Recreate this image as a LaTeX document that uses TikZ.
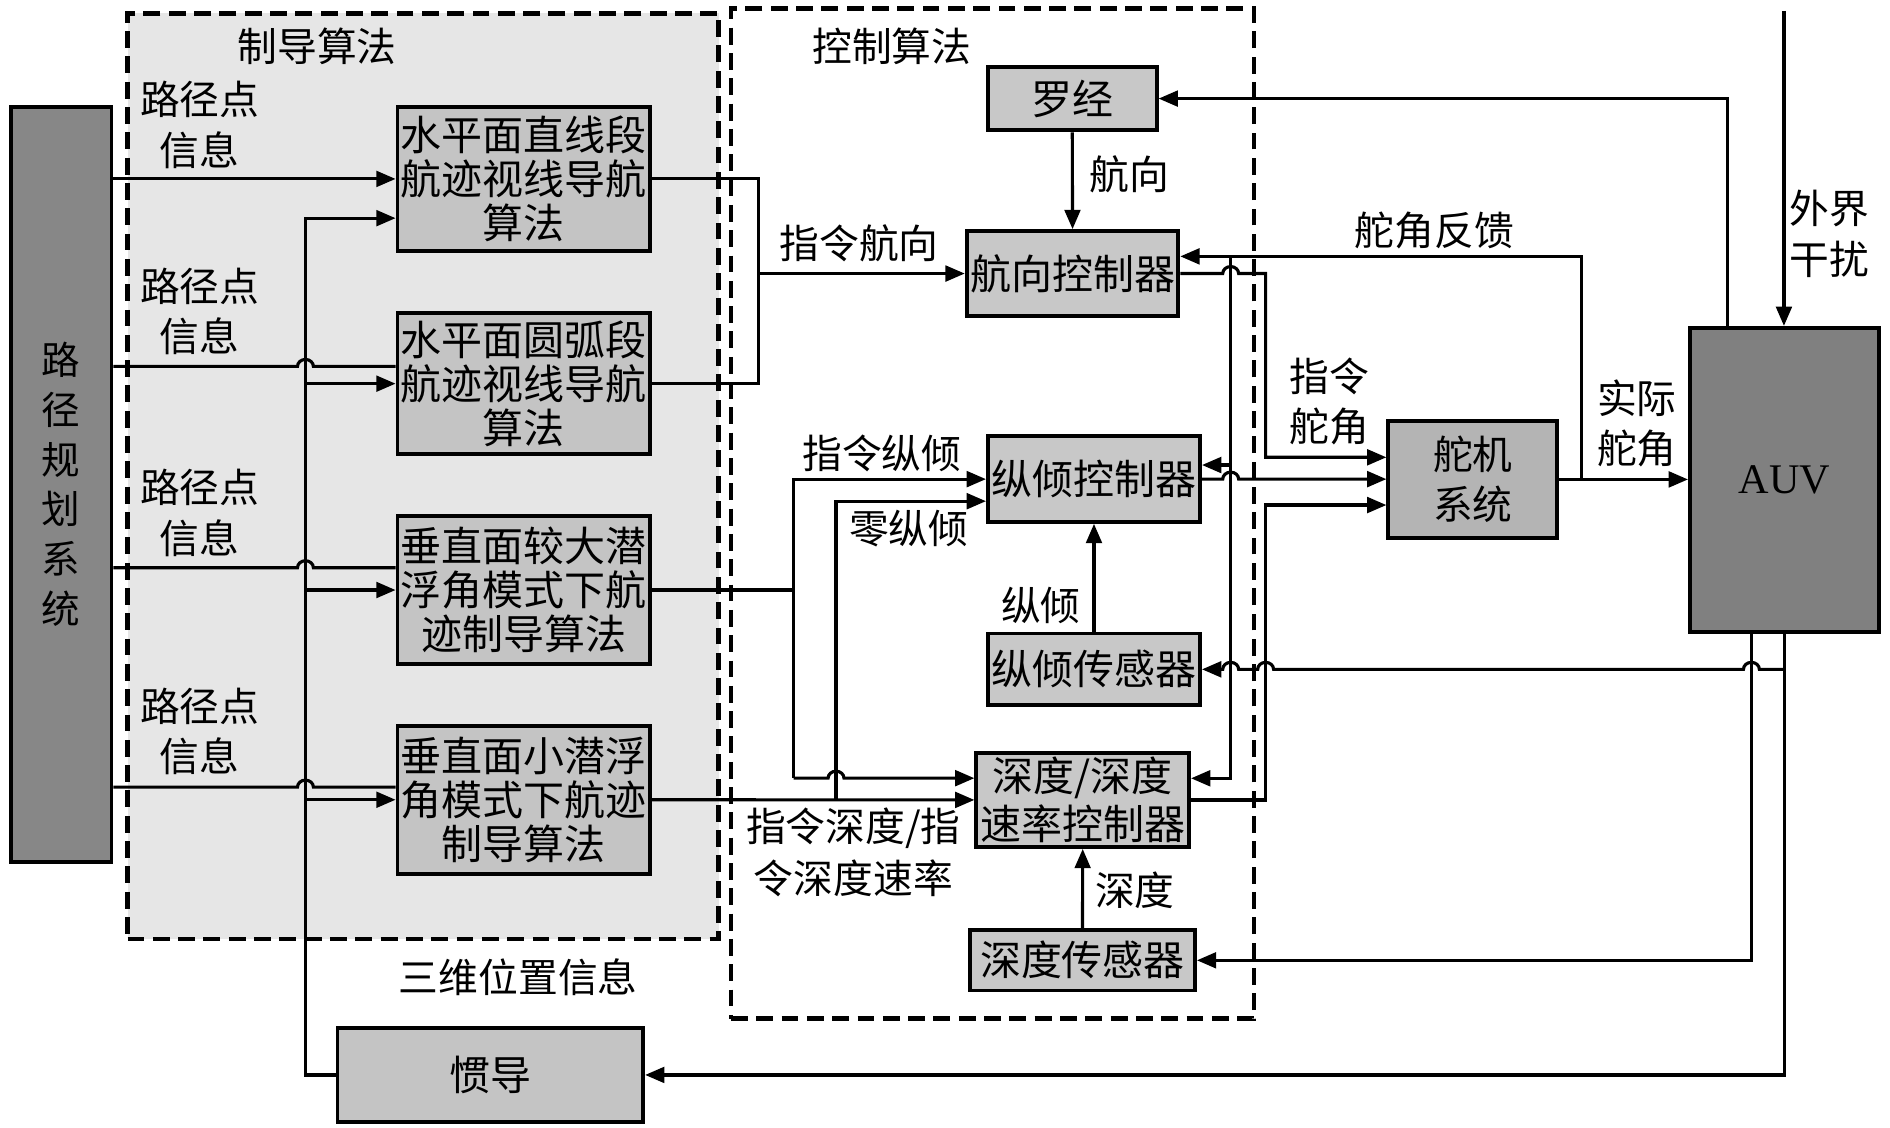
\documentclass[tikz,border=0pt]{standalone}
\usepackage{fontspec}
\setmainfont{Noto Sans CJK SC}
\newfontfamily\lser{Liberation Serif}
\usetikzlibrary{arrows.meta}
\definecolor{regfill}{RGB}{230,230,230}
\definecolor{boxg}{RGB}{196,196,196}
\definecolor{ctrlg}{RGB}{200,200,200}
\definecolor{servog}{RGB}{180,180,180}
\definecolor{ppg}{RGB}{135,135,135}
\definecolor{auvg}{RGB}{128,128,128}
\newcommand\hopR[2]{-- ({#1-6.6},#2) arc[start angle=180,end angle=0,x radius=3.3pt,y radius=2.9pt]}
\newcommand\hopL[2]{-- ({#1+6.6},#2) arc[start angle=0,end angle=180,x radius=3.3pt,y radius=2.9pt]}
\begin{document}
\begin{tikzpicture}[x=0.5pt,y=-0.5pt,
  ln/.style={line width=1.3pt,draw=black},
  arr/.style={ln,-{Triangle[length=8pt,width=6.5pt]}},
  bx/.style={draw,line width=1.6pt,fill=boxg,inner sep=0pt,align=center,font=\fontsize{17}{18.3}\selectfont},
  region/.style={draw,line width=2pt,dash pattern=on 7pt off 3.5pt,inner sep=0pt},
  lbl/.style={align=center,inner sep=0pt,font=\fontsize{16.5}{20.8}\selectfont}]
\useasboundingbox (0,0) rectangle (1568,935);
\fill[white] (0,0) rectangle (1568,935);
% regions
\node[region,fill=regfill,minimum width=245.3pt,minimum height=384pt] (greg) at (351.1,395) {};
\node[region,minimum width=217pt,minimum height=419pt] (creg) at (823.4,426) {};
% boxes
\node[bx,fill=ppg,font=\fontsize{16}{20.7}\selectfont,minimum width=41.85pt,minimum height=313.25pt] (pp) at (50.65,401.75) {路\\径\\规\\划\\系\\统};
\node[bx,minimum width=104.55pt,minimum height=59.55pt] (g1) at (434.35,148.45) {水平面直线段\\航迹视线导航\\算法};
\node[bx,minimum width=104.55pt,minimum height=58.3pt] (g2) at (434.35,318.3) {水平面圆弧段\\航迹视线导航\\算法};
\node[bx,minimum width=104.55pt,minimum height=61.5pt] (g3) at (434.35,489.5) {垂直面较大潜\\浮角模式下航\\迹制导算法};
\node[bx,minimum width=104.55pt,minimum height=61.5pt] (g4) at (434.35,663.5) {垂直面小潜浮\\角模式下航迹\\制导算法};
\node[bx,minimum width=126.8pt,minimum height=38.8pt] (ins) at (406.8,891.8) {惯导};
\node[bx,fill=ctrlg,minimum width=70pt,minimum height=26.4pt] (comp) at (889.6,81.8) {罗经};
\node[bx,fill=ctrlg,minimum width=87.8pt,minimum height=35.25pt] (hc) at (889.8,226.95) {航向控制器};
\node[bx,fill=ctrlg,minimum width=88pt,minimum height=35.5pt] (pc) at (907.6,397.5) {纵倾控制器};
\node[bx,fill=ctrlg,minimum width=88pt,minimum height=29.7pt] (ps) at (907.6,555.3) {纵倾传感器};
\node[bx,fill=ctrlg,font=\fontsize{17}{19.6}\selectfont,minimum width=88.25pt,minimum height=39.05pt] (dc) at (898.25,663.65) {深度/深度\\速率控制器};
\node[bx,fill=ctrlg,minimum width=93.35pt,minimum height=25.1pt] (ds) at (898.05,796.7) {深度传感器};
\node[bx,fill=servog,font=\fontsize{16.5}{20.5}\selectfont,minimum width=70.1pt,minimum height=48.75pt] (sv) at (1221.9,397.75) {舵机\\系统};
\node[bx,fill=auvg,font=\lser\fontsize{17.5}{20}\selectfont,minimum width=78.5pt,minimum height=126pt] (auv) at (1480.5,398) {AUV};
% labels
\node[lbl] (tg) at (263,38.7) {制导算法};
\node[lbl] (tc) at (740,38.5) {控制算法};
\node[lbl] (w1) at (165.7,103.7) {路径点\\信息};
\node[lbl] (w2) at (165.7,258.5) {路径点\\信息};
\node[lbl] (w3) at (165.7,425.5) {路径点\\信息};
\node[lbl] (w4) at (165.7,607) {路径点\\信息};
\node[lbl] (tpos) at (430,810.6) {三维位置信息};
\node[lbl] (tcmd) at (712.7,201.5) {指令航向};
\node[lbl] (thd) at (936.7,145) {航向};
\node[lbl] (tfb) at (1190,190.8) {舵角反馈};
\node[lbl] (tcr) at (1102.6,333.2) {指令\\舵角};
\node[lbl] (tar) at (1358,351) {实际\\舵角};
\node[lbl] (tdis) at (1518,194) {外界\\干扰};
\node[lbl] (tcp) at (731.6,376) {指令纵倾};
\node[lbl] (tzp) at (754,438.5) {零纵倾};
\node[lbl] (tp) at (863.5,502.6) {纵倾};
\node[lbl,font=\fontsize{16.5}{21.5}\selectfont] (tcd) at (708,707.5) {指令深度/指\\令深度速率};
\node[lbl] (td) at (941.6,738.8) {深度};
% path planning to guidance
\draw[arr] (pp.east |- g1.west) -- (g1.west);
\draw[ln] (pp.east |- 0,304) \hopR{253.4}{304} -- (g2.west |- 0,304);
\draw[ln] (pp.east |- 0,471) \hopR{253.4}{471} -- (g3.west |- 0,471);
\draw[ln] (pp.east |- 0,653) \hopR{253.4}{653} -- (g4.west |- 0,653);
% INS bus
\draw[arr] (ins.west) -| (253.4,181) -- (g1.west |- 0,181);
\draw[arr] (g2.west -| 253.4,0) -- (g2.west);
\draw[arr] (g3.west -| 253.4,0) -- (g3.west);
\draw[arr] (g4.west -| 253.4,0) -- (g4.west);
% guidance to control
\draw[ln] (g1.east) -| (629,318.3) -- (g2.east);
\draw[arr] (hc.west -| 629,0) -- (hc.west);
\coordinate (jA) at (658.5,645.6);
\draw[ln] (g3.east) -- (g3.east -| jA);
\draw[arr] (jA) |- (pc.west);
\draw[arr] (jA) \hopR{693.6}{645.6} -- (dc.west |- jA);
\draw[arr] (g4.east) -- (dc.west);
\draw[arr] (dc.west -| 693.6,0) |- (pc.west |- 0,415.8);
% control internal
\draw[arr] (comp.south) -- (hc.north);
\draw[arr] (ps.north) -- (pc.south);
\draw[arr] (ds.north) -- (dc.south);
% rudder feedback
\coordinate (fb) at (1312,212.7);
\draw[arr] (sv.east -| fb) -- (fb) -- (hc.east |- fb);
\draw[arr] (1021,212.7) -- (1021,645.7) -- (dc.east |- 0,645.7);
\draw[arr] (1021,385.8) -- (pc.east |- 0,385.8);
% controller outputs to servo
\draw[arr] (hc.east) \hopR{1021}{226.95} -- (1050,226.95) |- (sv.west |- 0,379.4);
\draw[arr] (pc.east) \hopR{1021}{397.5} -- (sv.west |- pc.east);
\draw[arr] (dc.east) -| (1050,419) -- (sv.west |- 0,419);
% servo to AUV
\draw[arr] (sv.east) -- (sv.east -| auv.west);
% AUV outputs
\draw[arr] (auv.north -| 1433,0) |- (comp.east);
\coordinate (dist) at (1480,9);
\draw[arr] (dist) -- (auv.north -| dist);
\draw[arr] (auv.south -| 1480.3,0) |- (ins.east);
\draw[arr] (1480.3,555.3) \hopL{1453}{555.3} \hopL{1050}{555.3} \hopL{1021}{555.3} -- (ps.east);
\draw[arr] (auv.south -| 1453,0) |- (ds.east);
\end{tikzpicture}
\end{document}
